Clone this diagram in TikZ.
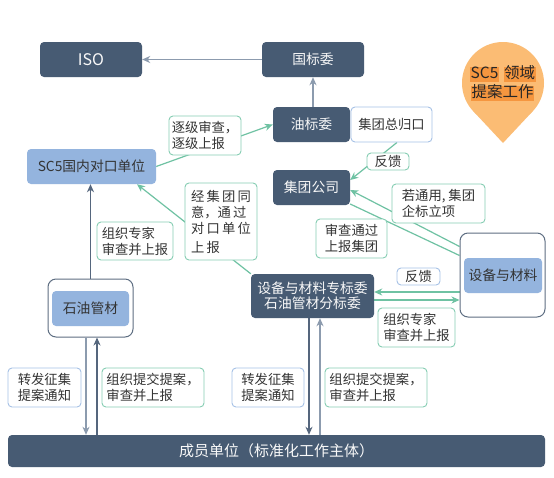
\documentclass[tikz,border=0pt]{standalone}
\usepackage{fontspec}
\setmainfont{Noto Sans CJK SC}
\usetikzlibrary{arrows.meta,calc}
\definecolor{dkc}{HTML}{475B73}
\definecolor{lbc}{HTML}{94B4DE}
\definecolor{grc}{HTML}{6FC2A3}
\definecolor{glc}{HTML}{86CDB3}
\definecolor{blc}{HTML}{A6C1E6}
\definecolor{gyc}{HTML}{8C9BAE}
\definecolor{dac}{HTML}{55667D}
\definecolor{cbc}{HTML}{5E6E82}
\definecolor{pinc}{HTML}{FBBC74}
\definecolor{hlc}{HTML}{F5963F}
\definecolor{txc}{HTML}{333333}
\pgfdeclarelayer{bg}
\pgfdeclarelayer{paper}
\pgfsetlayers{paper,bg,main}
\begin{document}
\begin{tikzpicture}[x=1pt,y=-1pt,
  font=\fontsize{13.3}{16}\selectfont,
  every node/.style={inner sep=0pt, text=txc},
  dk/.style={fill=dkc, rounded corners=4pt, text=white!95!gray, font=\fontsize{13.8}{16.5}\selectfont},
  lb/.style={fill=lbc, rounded corners=4pt, text=txc, font=\fontsize{13.8}{16.5}\selectfont},
  gl/.style={fill=white, draw=glc, line width=0.9pt, rounded corners=4pt, align=left},
  bl/.style={fill=white, draw=blc, line width=0.9pt, rounded corners=4pt, align=left},
  ctn/.style={fill=white, draw=cbc, line width=1pt, rounded corners=8pt},
  tip/.style={-{Stealth[length=8pt,width=7pt,inset=2.5pt]}},
  garr/.style={tip, draw=gyc, line width=1.3pt},
  darr/.style={tip, draw=dac, line width=1.3pt},
  grarr/.style={tip, draw=grc, line width=1.2pt},
  grln/.style={draw=grc, line width=1.2pt},
  hl/.style={fill=hlc, inner xsep=0.5pt, inner ysep=0.5pt, text height=11.5pt, text depth=2.5pt, font=\fontsize{15.5}{18}\selectfont, text=black!85}
]
\useasboundingbox (0,0) rectangle (554,477);
\begin{pgfonlayer}{paper}
\fill[white] (0,0) rectangle (554,477);
\end{pgfonlayer}

% pin
\fill[pinc] (503,83) circle[radius=41];
\fill[pinc] (503,143) -- (473.1,111) -- (532.9,111) -- cycle;
\node[hl] (pinA) at (484.5,74) {SC5};
\node[hl] (pinB) at (519.5,74) {领域};
\node[hl] (pinC) at (502.5,93) {提案工作};

% main nodes
\node[dk, minimum width=102pt, minimum height=35pt, font=\fontsize{16}{18}\selectfont] (iso) at (91,59.5) {ISO};
\node[dk, minimum width=102pt, minimum height=35pt] (gbw) at (313,59.5) {国标委};
\node[dk, minimum width=77pt, minimum height=35pt] (ybw) at (311.5,124.5) {油标委};
\node[bl, minimum width=81pt, minimum height=35pt, align=center] (jtzgk) at (391.5,124.5) {集团总归口};
\node[dk, minimum width=77pt, minimum height=35pt] (jtgs) at (311.5,187.5) {集团公司};
\node[lb, minimum width=129pt, minimum height=35pt] (sc5) at (91.5,166.5) {SC5国内对口单位};

\node[ctn, minimum width=85pt, minimum height=58pt] (sygc) at (90.5,308) {};
\node[lb, minimum width=77pt, minimum height=35pt] (sygcin) at (90.5,308.5) {石油管材};

\node[dk, minimum width=123pt, minimum height=44pt, align=center] (zbw) at (312.5,296) {设备与材料专标委\\[-1.5pt]石油管材分标委};

\node[ctn, minimum width=85pt, minimum height=84pt] (sbcl) at (502.5,275) {};
\node[lb, minimum width=78pt, minimum height=35pt] (sbclin) at (503,275.5) {设备与材料};

\node[dk, minimum width=537pt, minimum height=32pt, font=\fontsize{15}{18}\selectfont] (cy) at (276.5,451) {成员单位（标准化工作主体）};

% labels
\node[gl, minimum width=72pt, minimum height=39pt] (zj) at (205,135.5) {逐级审查，\\逐级上报};
\node[gl, minimum width=42pt, minimum height=17pt, align=center] (fk1) at (388,161.5) {反馈};
\node[gl, minimum width=93pt, minimum height=39pt] (ty) at (438.5,203.5) {若通用, 集团\\企标立项};
\node[gl, minimum width=71pt, minimum height=39pt] (sctg) at (351.5,238.5) {审查通过\\上报集团};
\node[gl, minimum width=72pt, minimum height=77pt] (jjt) at (221,221.5) {经\,集\,团\,同\\意，通\,过\\对\,口\,单\,位\\[3pt]上\,报};
\node[gl, minimum width=76pt, minimum height=38pt] (zzl) at (135,241) {组织专家\\审查并上报};
\node[bl, minimum width=43pt, minimum height=17pt, align=center] (fk2) at (418.5,276.5) {反馈};
\node[gl, minimum width=77pt, minimum height=39pt] (zzr) at (416.5,327.5) {组织专家\\审查并上报};
\node[bl, minimum width=73pt, minimum height=39pt] (zf1) at (44.5,387.5) {转发征集\\提案通知};
\node[gl, minimum width=102pt, minimum height=39pt] (tj1) at (153,387.5) {组织提交提案，\\审查并上报};
\node[bl, minimum width=72pt, minimum height=39pt] (zf2) at (268,387.5) {转发征集\\提案通知};
\node[gl, minimum width=102pt, minimum height=39pt] (tj2) at (376,387.5) {组织提交提案，\\审查并上报};

% connectors
\begin{pgfonlayer}{bg}
\draw[garr] (gbw.west) -- (iso.east);
\draw[garr] (ybw.north -| gbw.south) -- (gbw.south);
\draw[grarr] (sc5.east) -- (ybw.west);
\draw[grarr] ([xshift=5.5pt]jtzgk.south) -- ([yshift=7.5pt]jtgs.east);
\draw[grarr] ([yshift=-14pt]sbcl.north west) -- ([yshift=-2.5pt]jtgs.east);
\draw[grln] ([yshift=-16.5pt]jtgs.east) -- ([yshift=-23pt]sbcl.north west);
\draw[grarr, {Stealth[length=8pt,width=7pt,inset=2.5pt]}-] ([xshift=45.5pt]sc5.south) -- (zbw.north west);
\draw[grarr] ([yshift=-17pt]sbcl.west) -- ([yshift=-17pt]sbcl.west -| zbw.east);
\draw[grarr] ([yshift=-25pt]sbcl.west -| zbw.east) -- ([yshift=-25pt]sbcl.west);
\draw[darr] (sygc.north) -- (sygc.north |- sc5.south);
\draw[garr] ([xshift=-4.5pt]sygc.south) -- ([xshift=-4.5pt]sygc.south |- cy.north);
\draw[darr] ([xshift=6.5pt]sygc.south |- cy.north) -- ([xshift=6.5pt]sygc.south);
\draw[darr] ([xshift=-3.5pt]zbw.south) -- ([xshift=-3.5pt]zbw.south |- cy.north);
\draw[garr] ([xshift=7.5pt]zbw.south |- cy.north) -- ([xshift=7.5pt]zbw.south);
\end{pgfonlayer}
\end{tikzpicture}
\end{document}
